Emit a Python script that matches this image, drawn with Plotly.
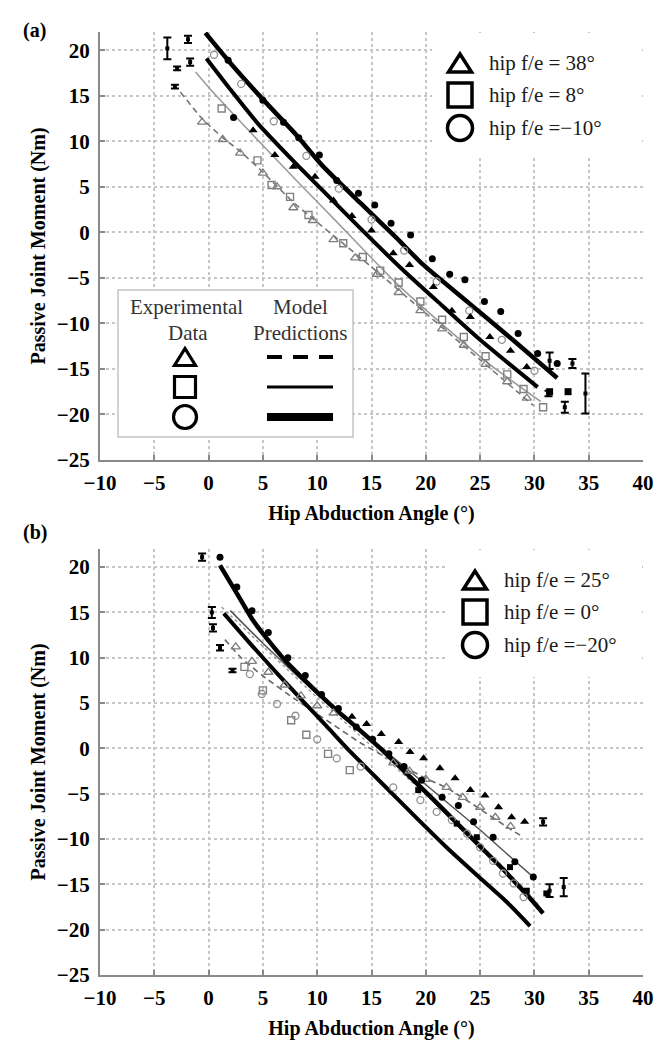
import plotly.graph_objects as go

# ---------------- data: panel (a) ----------------
a_tick_x = [-10, -5, 0, 5, 10, 15, 20, 25, 30, 35, 40]
a_tick_y = [-25, -20, -15, -10, -5, 0, 5, 10, 15, 20]

a_lineA_x = [-0.3, 2.0, 5.0, 8.0, 10.5, 14.0, 17.3, 19.7, 24.0, 28.0, 32.1]
a_lineA_y = [21.9, 18.6, 14.6, 10.8, 7.3, 3.2, -0.6, -3.5, -7.8, -11.8, -16.0]
a_lineB_x = [-0.2, 2.0, 4.5, 8.0, 11.0, 14.0, 17.6, 21.0, 25.0, 30.3]
a_lineB_y = [19.1, 15.7, 12.0, 7.6, 4.0, 0.4, -3.8, -7.5, -11.8, -17.0]
a_lineG1_x = [-1.2, 0.1, 4.0, 8.0, 12.0, 17.3, 22.0, 26.0, 30.6]
a_lineG1_y = [17.6, 15.8, 10.8, 5.8, 0.9, -5.6, -10.6, -14.6, -18.6]
a_lineG2_x = [-2.6, -0.6, 1.3, 2.9, 5.0, 7.8, 9.6, 15.0, 20.0, 25.0, 29.9]
a_lineG2_y = [15.4, 12.5, 10.4, 8.9, 6.6, 3.3, 1.5, -3.8, -8.9, -14.0, -19.0]

a_dots_x = [1.8, 2.3, 5.0, 6.9, 8.3, 10.2, 11.8, 13.8, 15.3, 16.8, 18.6, 20.6, 22.2, 23.6, 25.4, 26.9, 28.5, 30.3, 32.1]
a_dots_y = [18.9, 12.6, 14.5, 12.1, 10.4, 8.5, 5.7, 4.3, 3.0, 1.0, -0.3, -2.9, -4.6, -5.2, -7.6, -8.7, -11.1, -13.3, -14.4]
a_tri_x = [4.1, 6.1, 7.8, 9.8, 11.5, 13.2, 15.0, 17.0, 18.5, 20.7, 22.4, 24.1, 25.9, 27.8, 29.3]
a_tri_y = [11.2, 8.5, 7.2, 6.1, 3.5, 1.8, 0.2, -2.3, -3.6, -6.0, -8.6, -9.3, -11.5, -13.0, -14.8]
a_sqf_x = [31.4, 33.1]
a_sqf_y = [-17.5, -17.5]
a_sqo_x = [1.2, 4.5, 5.8, 7.5, 9.2, 12.4, 14.2, 15.8, 17.5, 19.5, 21.5, 23.5, 25.5, 27.5, 29.0, 30.8]
a_sqo_y = [13.6, 7.9, 5.2, 3.9, 1.9, -1.2, -2.7, -4.2, -5.5, -7.6, -9.6, -11.5, -13.6, -15.6, -17.2, -19.2]
a_trio_x = [-0.6, 1.3, 2.9, 5.0, 6.3, 7.8, 9.6, 11.5, 13.5, 15.5, 17.5, 19.5, 21.5, 23.5, 25.5, 27.5, 29.3]
a_trio_y = [12.1, 10.2, 8.7, 6.5, 5.0, 2.7, 1.3, -0.8, -2.8, -4.6, -6.6, -8.6, -10.6, -12.4, -14.5, -16.4, -18.2]
a_circo_x = [0.5, 3.0, 6.0, 9.0, 12.0, 15.0, 18.0, 21.0, 24.0, 27.0, 30.0]
a_circo_y = [19.5, 16.3, 12.2, 8.4, 4.8, 1.4, -2.0, -5.4, -8.6, -11.8, -15.2]

a_err_x = [-3.8, -1.9, -1.7, -2.9, -3.1, 31.4, 33.5, 34.7, 32.8, 31.3]
a_err_y = [20.2, 21.2, 18.7, 18.0, 16.0, -14.1, -14.4, -17.7, -19.2, -17.7]
a_err_e = [1.2, 0.4, 0.4, 0.2, 0.2, 0.9, 0.5, 2.2, 0.6, 0.3]

a_legend_text = ["hip f/e = 38°", "hip f/e = 8°", "hip f/e =−10°"]

# ---------------- data: panel (b) ----------------
b_lineC_x = [1.05, 2.6, 4.1, 5.65, 7.2, 8.7, 10.3, 11.8, 13.6, 16.1, 18.0, 20.4, 23.0, 25.0, 27.0, 28.1, 29.5, 30.8]
b_lineC_y = [20.2, 17.1, 14.1, 11.7, 9.5, 7.7, 5.85, 4.2, 2.35, -0.3, -2.5, -5.3, -8.4, -10.8, -13.2, -14.6, -16.4, -18.2]
b_lineD_x = [1.4, 4.1, 6.6, 8.7, 10.9, 13.0, 15.0, 17.0, 19.0, 21.9, 25.0, 27.5, 29.6]
b_lineD_y = [14.9, 11.2, 7.9, 5.2, 2.4, -0.3, -2.7, -5.1, -7.5, -10.9, -14.3, -17.0, -19.6]
b_lineE_x = [2.0, 5.0, 8.0, 11.0, 14.0, 17.0, 19.6, 22.0, 25.0, 28.0, 29.9]
b_lineE_y = [15.2, 11.6, 8.2, 5.0, 2.0, -1.0, -3.6, -6.0, -9.0, -12.2, -14.2]
b_lineF_x = [1.5, 3.0, 5.0, 8.0, 11.0, 14.0, 17.0, 20.0, 22.0, 25.0, 27.9, 29.0]
b_lineF_y = [12.0, 10.0, 8.0, 5.4, 3.0, 0.6, -1.4, -3.3, -4.4, -6.7, -9.0, -9.8]
b_lineG_x = [1.2, 4.0, 7.0, 10.0, 13.0, 16.0, 19.0, 22.0, 25.0, 28.0, 30.5]
b_lineG_y = [15.6, 12.4, 9.0, 5.6, 2.4, -0.8, -4.0, -7.2, -10.6, -14.2, -17.4]

b_dots_x = [1.05, 2.6, 4.0, 5.5, 7.3, 8.9, 10.4, 11.95, 13.6, 15.1, 16.6, 18.0, 19.6, 21.5, 23.0, 24.4, 26.2, 28.2, 29.9]
b_dots_y = [21.1, 17.8, 15.2, 12.8, 10.0, 8.05, 5.95, 4.4, 2.35, 1.0, -0.6, -2.0, -3.5, -5.4, -6.3, -8.1, -9.8, -12.5, -14.2]
b_tri_x = [13.2, 14.55, 15.9, 17.5, 18.55, 19.8, 21.3, 22.7, 24.1, 25.45, 26.7, 27.9, 29.1]
b_tri_y = [3.5, 2.7, 1.6, 0.7, -0.4, -1.1, -2.2, -3.3, -4.6, -5.2, -6.5, -7.6, -8.1]
b_trio_x = [2.5, 4.0, 5.5, 7.0, 8.5, 10.0, 11.5, 17.0, 18.5, 20.0, 21.9, 23.4, 25.0, 26.4, 27.8]
b_trio_y = [11.2, 9.6, 8.4, 7.0, 5.8, 4.7, 3.9, -1.6, -2.5, -3.4, -4.3, -5.4, -6.5, -7.6, -8.6]
b_sqf_x = [19.3, 22.85, 24.7, 27.75, 29.3, 31.1]
b_sqf_y = [-4.6, -8.3, -9.8, -13.1, -15.7, -16.0]
b_sqo_x = [3.3, 5.0, 7.6, 9.0, 11.0, 13.0]
b_sqo_y = [9.0, 6.4, 3.1, 1.5, -0.6, -2.4]
b_circo_x = [3.8, 4.9, 6.3, 8.0, 10.0, 11.8, 14.0, 17.0, 19.5, 21.0, 22.4, 23.8, 25.0, 26.2, 27.1, 28.1, 29.0]
b_circo_y = [8.2, 6.0, 4.9, 3.6, 1.0, -1.1, -2.0, -4.3, -5.7, -7.0, -7.9, -9.4, -10.9, -12.4, -13.8, -14.9, -16.4]

b_err_x = [-0.6, 0.3, 0.4, 1.05, 2.2, 30.8, 31.4, 32.7]
b_err_y = [21.1, 15.0, 13.3, 11.1, 8.6, -8.1, -15.7, -15.3]
b_err_e = [0.4, 0.6, 0.4, 0.3, 0.2, 0.4, 0.7, 1.0]

b_legend_text = ["hip f/e = 25°", "hip f/e = 0°", "hip f/e =−20°"]

inner_headers = [("Experimental", "Data"), ("Model", "Predictions")]

# ---------------- layout geometry ----------------
W, H = 660, 1041
ML, MR, MT, MB = 100, 17, 32, 66
PW = W - ML - MR
PH = H - MT - MB


def fx(px):
    return (px - ML) / PW


def fy(py):
    return (H - MB - py) / PH


def fmt(v):
    return str(v).replace("-", "\u2212")


SERIF = "Liberation Serif"
GRAY = "#8a8a8a"

fig = go.Figure()


def add_panel(xa, ya, lines, markers, err):
    for (lx, ly, color, width, dash) in lines:
        fig.add_trace(go.Scatter(x=lx, y=ly, mode="lines", xaxis=xa, yaxis=ya,
                                 line=dict(color=color, width=width, dash=dash, shape="spline", smoothing=0.6),
                                 hoverinfo="skip"))
    for (mx, my, sym, size, color, lcol, lw) in markers:
        fig.add_trace(go.Scatter(x=mx, y=my, mode="markers", xaxis=xa, yaxis=ya,
                                 marker=dict(symbol=sym, size=size, color=color,
                                             line=dict(color=lcol, width=lw)),
                                 hoverinfo="skip"))
    ex, ey, ee = err
    fig.add_trace(go.Scatter(x=ex, y=ey, mode="markers", xaxis=xa, yaxis=ya,
                             marker=dict(symbol="square", size=4, color="black"),
                             error_y=dict(type="data", array=ee, visible=True, color="black",
                                          thickness=2, width=4),
                             hoverinfo="skip"))


add_panel("x", "y",
          [(a_lineG2_x, a_lineG2_y, "#777777", 1.6, "6px,4px"),
           (a_lineG1_x, a_lineG1_y, "#999999", 1.5, "solid"),
           (a_lineB_x, a_lineB_y, "black", 4.0, "solid"),
           (a_lineA_x, a_lineA_y, "black", 4.5, "solid")],
          [(a_trio_x, a_trio_y, "triangle-up-open", 8, "#808080", "#808080", 1.4),
           (a_sqo_x, a_sqo_y, "square-open", 7, "#808080", "#808080", 1.4),
           (a_circo_x, a_circo_y, "circle-open", 7, "#909090", "#909090", 1.3),
           (a_tri_x, a_tri_y, "triangle-up", 8, "black", "black", 0),
           (a_sqf_x, a_sqf_y, "square", 7, "black", "black", 0),
           (a_dots_x, a_dots_y, "circle", 7, "black", "black", 0)],
          (a_err_x, a_err_y, a_err_e))

add_panel("x2", "y2",
          [(b_lineF_x, b_lineF_y, "#666666", 1.6, "6px,4px"),
           (b_lineG_x, b_lineG_y, "#999999", 1.4, "3px,3px"),
           (b_lineE_x, b_lineE_y, "#555555", 1.5, "solid"),
           (b_lineD_x, b_lineD_y, "black", 4.0, "solid"),
           (b_lineC_x, b_lineC_y, "black", 4.5, "solid")],
          [(b_trio_x, b_trio_y, "triangle-up-open", 8, "#808080", "#808080", 1.4),
           (b_sqo_x, b_sqo_y, "square-open", 7, "#808080", "#808080", 1.4),
           (b_circo_x, b_circo_y, "circle-open", 7, "#909090", "#909090", 1.3),
           (b_tri_x, b_tri_y, "triangle-up", 8, "black", "black", 0),
           (b_sqf_x, b_sqf_y, "square", 6, "black", "black", 0),
           (b_dots_x, b_dots_y, "circle", 7, "black", "black", 0)],
          (b_err_x, b_err_y, b_err_e))

tickfont = dict(family=SERIF, size=21, color="black", weight="bold")
titlefont = dict(family=SERIF, size=20, color="black", weight="bold")

axis_common = dict(range=[-10, 40], tickvals=a_tick_x, ticktext=[fmt(v) for v in a_tick_x],
                   showline=True, linecolor=GRAY, linewidth=2, ticks="inside", ticklen=5,
                   tickcolor=GRAY, tickwidth=1.5, showgrid=True, gridcolor="#c6c6c6",
                   gridwidth=1.5, griddash="dot", zeroline=False, tickfont=tickfont,
                   ticklabelstandoff=3)
yaxis_common = dict(range=[-25, 22], tickvals=a_tick_y, ticktext=[fmt(v) for v in a_tick_y],
                    showline=True, linecolor=GRAY, linewidth=2, ticks="inside", ticklen=5,
                    tickcolor=GRAY, tickwidth=1.5, showgrid=True, gridcolor="#c6c6c6",
                    gridwidth=1.5, griddash="dot", zeroline=False, tickfont=tickfont,
                    ticklabelstandoff=4)

a_top = 1.0
a_bot = fy(460)
b_top = fy(549)

fig.update_layout(
    width=W, height=H, margin=dict(l=ML, r=MR, t=MT, b=MB, autoexpand=False),
    paper_bgcolor="white", plot_bgcolor="white", showlegend=False,
    xaxis=dict(axis_common, domain=[0, 1], anchor="y",
               title=dict(text="Hip Abduction Angle (°)", font=titlefont, standoff=12)),
    yaxis=dict(yaxis_common, domain=[a_bot, a_top], anchor="x",
               title=dict(text="Passive Joint Moment (Nm)", font=titlefont, standoff=6)),
    xaxis2=dict(axis_common, domain=[0, 1], anchor="y2",
                title=dict(text="Hip Abduction Angle (°)", font=titlefont, standoff=12)),
    yaxis2=dict(yaxis_common, domain=[0, b_top], anchor="x2",
                title=dict(text="Passive Joint Moment (Nm)", font=titlefont, standoff=6)),
)

shapes = []
annots = []


def rect_px(x0, y0, x1, y1, line_color=None, line_width=0, fill="white"):
    shapes.append(dict(type="rect", xref="paper", yref="paper", x0=fx(x0), x1=fx(x1),
                       y0=fy(y1), y1=fy(y0), fillcolor=fill, layer="above",
                       line=dict(color=line_color or "rgba(0,0,0,0)", width=line_width)))


def tri_px(cx, cy, w, h, lw):
    p = "M {},{} L {},{} L {},{} Z".format(fx(cx - w / 2), fy(cy + h / 2), fx(cx + w / 2), fy(cy + h / 2),
                                          fx(cx), fy(cy - h / 2))
    shapes.append(dict(type="path", xref="paper", yref="paper", path=p, layer="above",
                       fillcolor="white", line=dict(color="black", width=lw)))


def sq_px(cx, cy, s, lw):
    rect_px(cx - s / 2, cy - s / 2, cx + s / 2, cy + s / 2, "black", lw)


def circ_px(cx, cy, d, lw):
    shapes.append(dict(type="circle", xref="paper", yref="paper", x0=fx(cx - d / 2), x1=fx(cx + d / 2),
                       y0=fy(cy + d / 2), y1=fy(cy - d / 2), layer="above", fillcolor="white",
                       line=dict(color="black", width=lw)))


def hline_px(x0, x1, y, lw, dash="solid"):
    shapes.append(dict(type="line", xref="paper", yref="paper", x0=fx(x0), x1=fx(x1), y0=fy(y), y1=fy(y),
                       layer="above", line=dict(color="black", width=lw, dash=dash)))


def text_px(x, y, s, anchor="left", size=21, color="#1a1a1a", bold=False):
    annots.append(dict(xref="paper", yref="paper", x=fx(x), y=fy(y), text=s, showarrow=False,
                       xanchor=anchor, yanchor="middle",
                       font=dict(family=SERIF, size=size, color=color, weight="bold" if bold else "normal")))


# legend (a) top right
rect_px(432, 33, 642, 158)
for i, (cy, t) in enumerate(zip([63, 95, 128], a_legend_text)):
    if i == 0:
        tri_px(460, cy, 23, 18, 3.5)
    elif i == 1:
        sq_px(460, cy, 24, 3.5)
    else:
        circ_px(460, cy, 25, 3.5)
    text_px(487, cy, t)

# legend (b) top right
rect_px(447, 550, 642, 677)
for i, (cy, t) in enumerate(zip([580, 612, 645], b_legend_text)):
    if i == 0:
        tri_px(475, cy, 23, 18, 3.5)
    elif i == 1:
        sq_px(475, cy, 24, 3.5)
    else:
        circ_px(475, cy, 25, 3.5)
    text_px(502, cy, t)

# inner legend box (a)
rect_px(118, 290, 353, 437, "#c4c4c4", 1.5)
text_px(186, 307, inner_headers[0][0], anchor="center", color="#333")
text_px(188, 333, inner_headers[0][1], anchor="center", color="#333")
text_px(300, 307, inner_headers[1][0], anchor="center", color="#333")
text_px(300, 333, inner_headers[1][1], anchor="center", color="#333")
tri_px(185, 357, 21, 17, 3.2)
sq_px(185, 387, 21, 3.2)
circ_px(185, 417, 23, 3.2)
hline_px(267, 333, 357, 4, "15px,11px")
hline_px(267, 333, 387, 3)
hline_px(267, 333, 417, 8)

# panel labels
text_px(34, 30, "(a)", anchor="center", size=20, color="black", bold=True)
text_px(35, 532, "(b)", anchor="center", size=20, color="black", bold=True)

fig.update_layout(shapes=shapes, annotations=annots)
fig.write_html("out.html", config={"displayModeBar": False},
               post_script="document.body.style.margin='0px';document.body.style.overflow='hidden';")
